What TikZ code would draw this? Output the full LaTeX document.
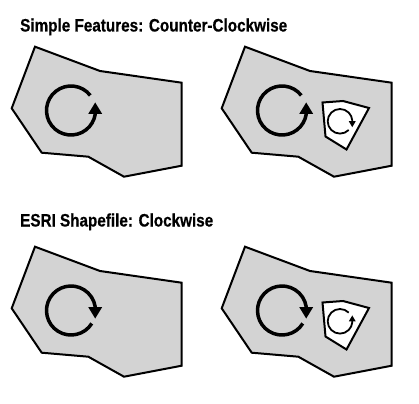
\documentclass[tikz,border=0pt]{standalone}
\usepackage{fontspec}
\usepackage{graphicx}
\setmainfont{Liberation Sans}
\newfontfamily\titlefont[FakeBold=0.6]{Liberation Sans Bold}
\usetikzlibrary{arrows.meta}
\definecolor{polyfill}{RGB}{211,211,211}
\begin{document}
\begin{tikzpicture}[x=1pt,y=1pt,
  outer/.style={draw=black, fill=polyfill, line width=2pt, line join=miter},
  hole/.style={draw=black, fill=white, line width=2pt, line join=miter},
  bigring/.style={line width=3.5pt, -{Triangle[length=11.5pt,width=13pt]}},
  smallring/.style={line width=1.8pt, -{Triangle[length=6pt,width=6.5pt]}},
  title/.style={anchor=base west, inner sep=0pt, font=\titlefont\fontsize{18}{21}\selectfont}]
\useasboundingbox (0,0) rectangle (419,-403);

% titles
\node[title] (t1) at (20,-31.5) {\resizebox{267pt}{\height}{Simple Features: Counter-Clockwise}};
\node[title] (t2) at (20,-226.5) {\resizebox{193pt}{\height}{ESRI Shapefile: Clockwise}};

% outer polygons
\foreach \dx/\dy in {0/0, 210/0, 0/-200, 210/-200}{
  \begin{scope}[shift={(\dx,\dy)}]
    \draw[outer] (35,-46.7) -- (100,-71) -- (181.7,-82.7) -- (181.7,-165.7) -- (124,-176.7) -- (88.3,-156.7) -- (41.7,-152.7) -- (11.7,-108.3) -- cycle;
  \end{scope}
}

% holes
\foreach \dy in {0,-200}{
  \begin{scope}[shift={(0,\dy)}]
    \draw[hole] (322.5,-102.5) -- (343,-101) -- (369,-108) -- (346.5,-149.5) -- (325.5,-136.5) -- cycle;
  \end{scope}
}

% ring centres
\coordinate (c1) at (71,-110.5);
\coordinate (c2) at (282,-110.5);
\coordinate (c3) at (71,-310.5);
\coordinate (c4) at (282,-310.5);
\coordinate (s2) at (340,-121.3);
\coordinate (s4) at (340,-321.3);

% counter-clockwise big rings (top)
\draw[bigring] ([shift={(38:24.5)}]c1) arc[start angle=38,end angle=351,radius=24.5] -- ++(0,12);
\draw[bigring] ([shift={(38:24.5)}]c2) arc[start angle=38,end angle=351,radius=24.5] -- ++(0,12);
% clockwise big rings (bottom)
\draw[bigring] ([shift={(-32:24.5)}]c3) arc[start angle=-32,end angle=-351,radius=24.5] -- ++(0,-12);
\draw[bigring] ([shift={(-32:24.5)}]c4) arc[start angle=-32,end angle=-351,radius=24.5] -- ++(0,-12);

% small rings in holes
\draw[smallring] ([shift={(-45:12.3)}]s2) arc[start angle=-45,end angle=-355,radius=12.3] -- ++(0,-7);
\draw[smallring] ([shift={(45:12.3)}]s4) arc[start angle=45,end angle=355,radius=12.3] -- ++(0,7);
\end{tikzpicture}
\end{document}
